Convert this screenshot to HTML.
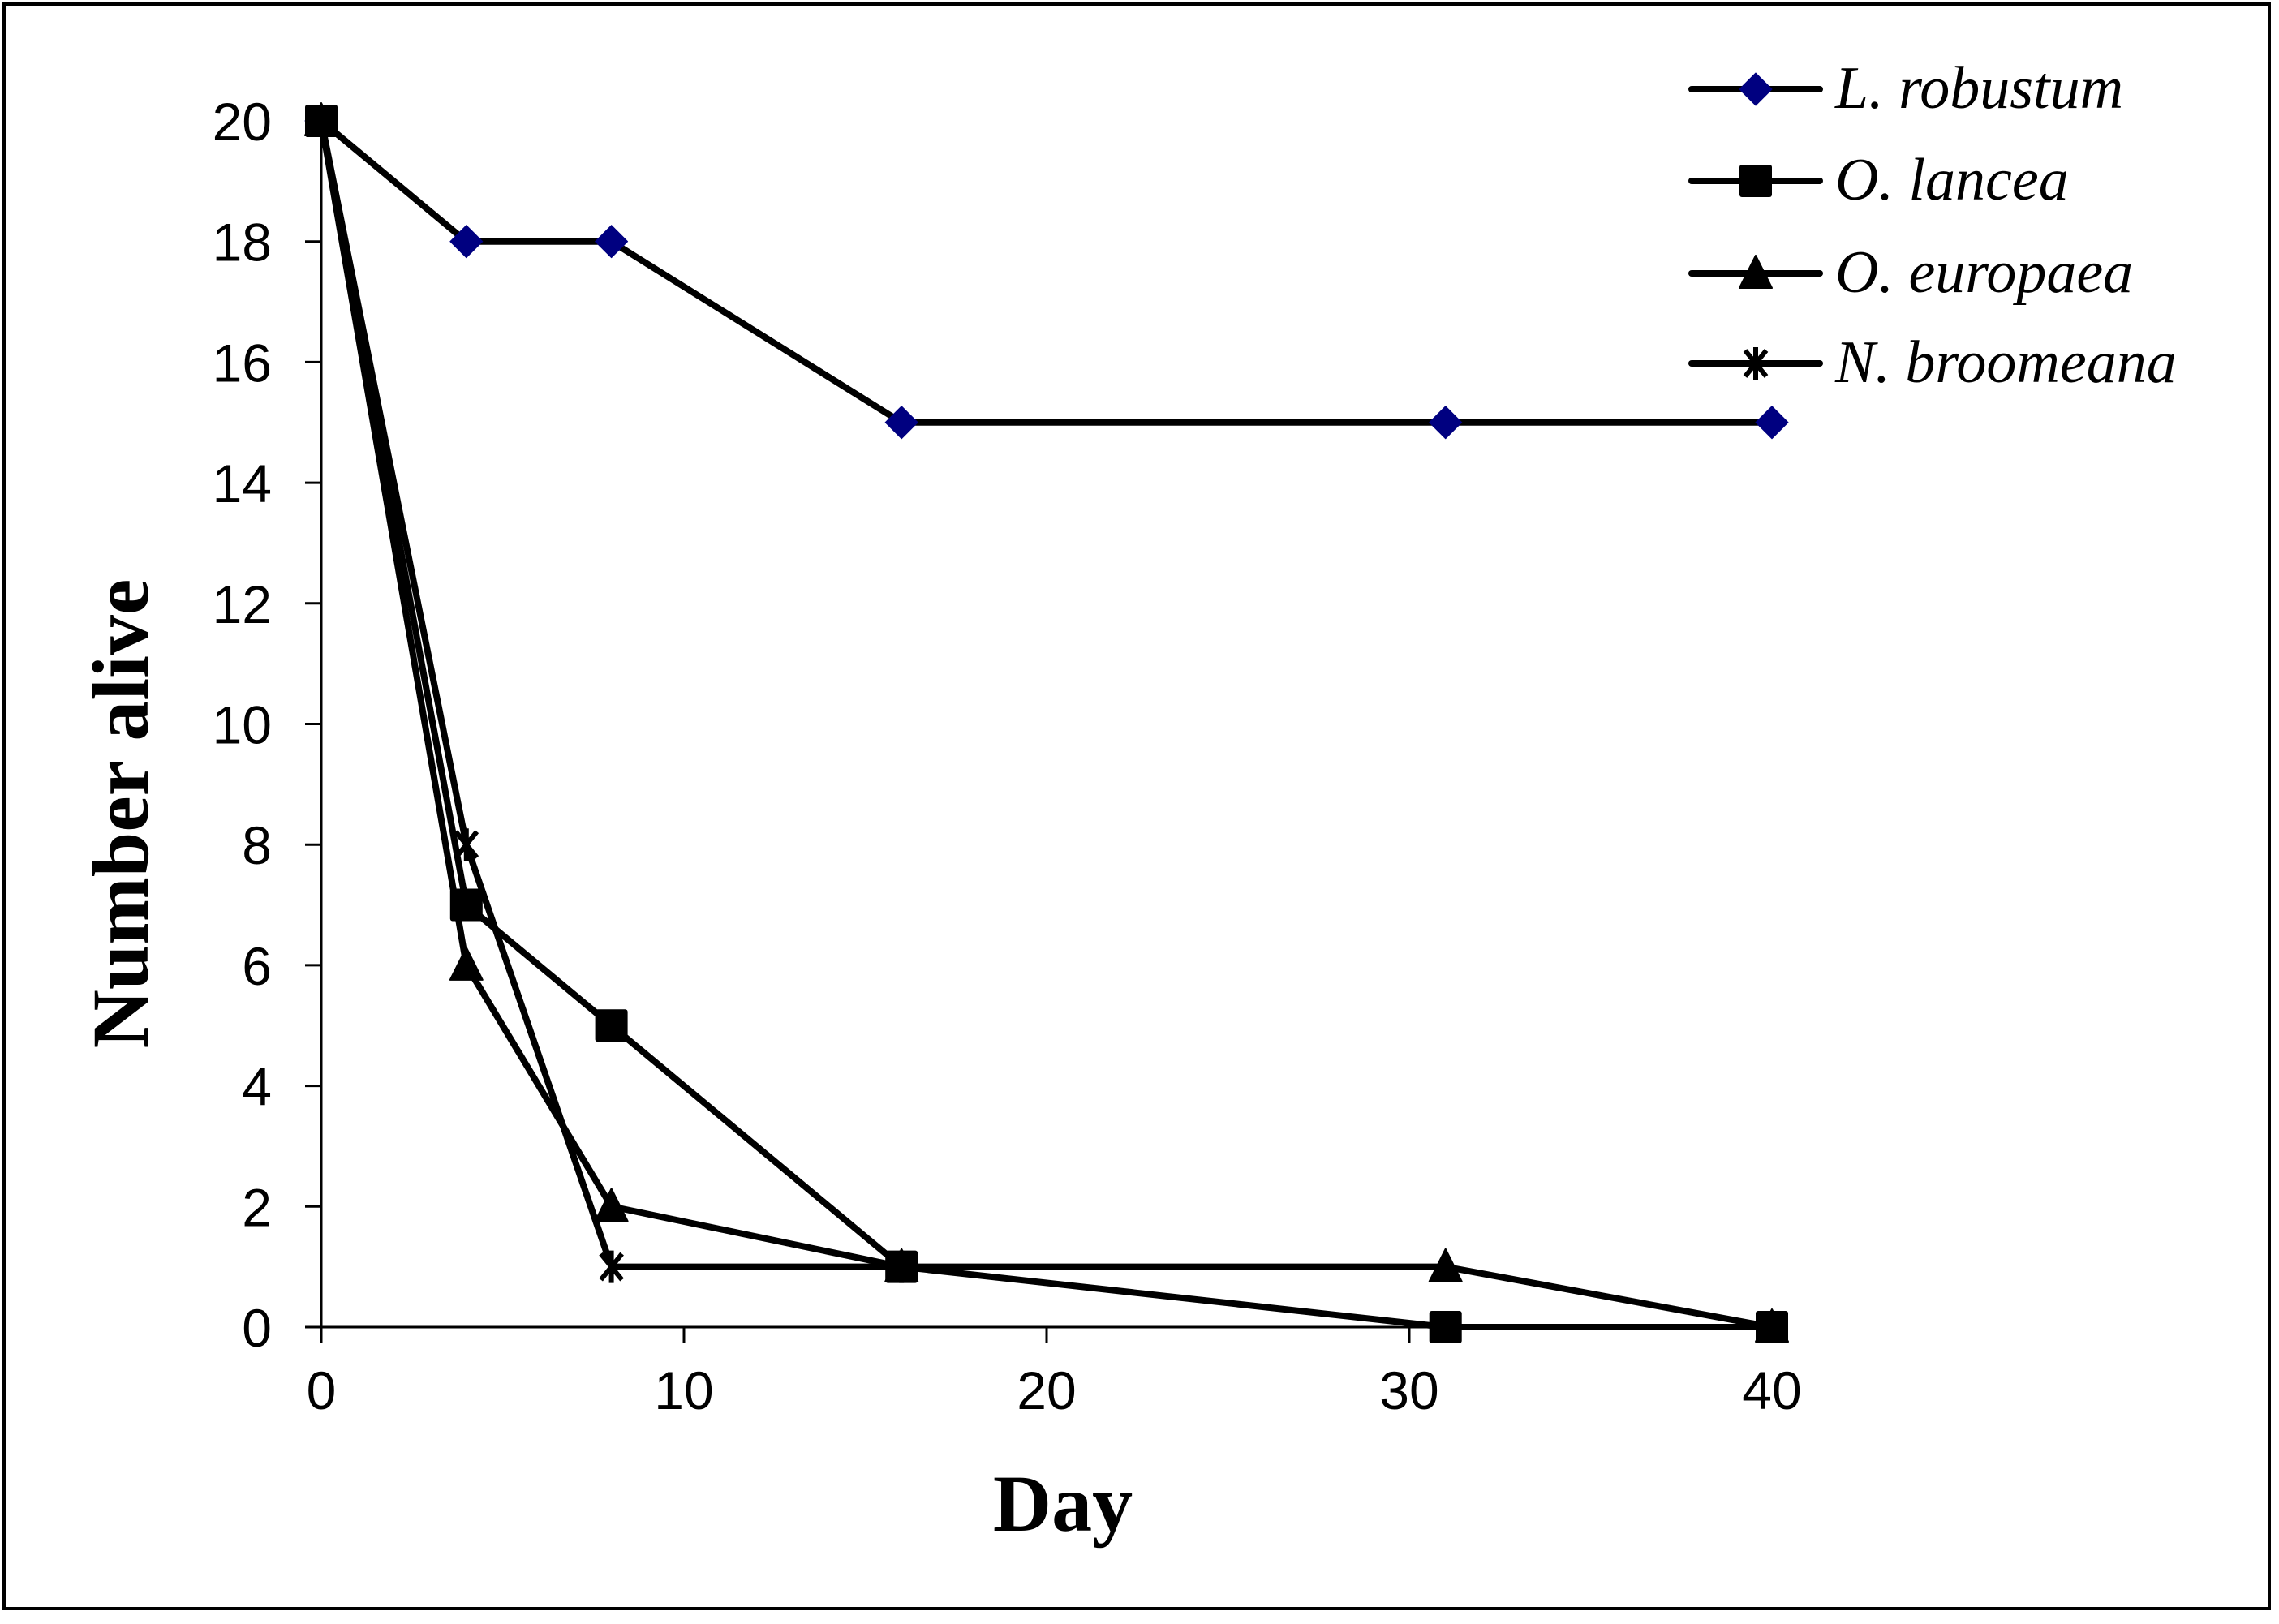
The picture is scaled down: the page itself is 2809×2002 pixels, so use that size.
<!DOCTYPE html>
<html><head><meta charset="utf-8"><style>
html,body{margin:0;padding:0;background:#fff;}
svg{display:block;}
</style></head><body>
<svg id="chart" width="2809" height="2002" viewBox="0 0 2809 2002" xmlns="http://www.w3.org/2000/svg">
<rect x="5" y="5" width="2792" height="1978" fill="#fff" stroke="#000" stroke-width="4"/>
<g id="axes"></g>
<g id="series"></g>
<g id="legend"></g>
<text x="1310" y="1887" text-anchor="middle" font-family="'Liberation Serif', serif" font-weight="bold" font-size="100">Day</text>
<text transform="translate(182,1003) rotate(-90)" text-anchor="middle" font-family="'Liberation Serif', serif" font-weight="bold" font-size="100">Number alive</text>
</svg>
<script>
const days = [0, 4, 8, 16, 31, 40];
const seriesNames = ["L. robustum", "O. lancea", "O. europaea", "N. broomeana"];
const robustum = [20, 18, 18, 15, 15, 15];
const lancea = [20, 7, 5, 1, 0, 0];
const europaea = [20, 6, 2, 1, 1, 0];
const broomeana = [20, 8, 1, 1];
const xTicks = [0, 10, 20, 30, 40];
const yTicks = [0, 2, 4, 6, 8, 10, 12, 14, 16, 18, 20];

const NS = "http://www.w3.org/2000/svg";
const X0 = 396, X1 = 2184, Y0 = 1636, Y1 = 149;
function xs(v){ return X0 + (v - 0) / 40 * (X1 - X0); }
function ys(v){ return Y0 - v / 20 * (Y0 - Y1); }
function mk(tag, attrs, parent){ const e = document.createElementNS(NS, tag); for (const k in attrs) e.setAttribute(k, attrs[k]); parent.appendChild(e); return e; }

const axes = document.getElementById('axes');
let yl = mk('line', {x1:X0, y1:Y1, x2:X0, y2:Y0, stroke:'#000', 'stroke-width':3}, axes);


let xl = mk('line', {x1:X0-20, y1:Y0, x2:X1, y2:Y0, stroke:'#000', 'stroke-width':3}, axes);


yTicks.forEach(v => {
  const t = mk('line', {x1:X0-20, y1:ys(v), x2:X0, y2:ys(v), stroke:'#000', 'stroke-width':3}, axes);
  
  
  const l = mk('text', {x:335, y:ys(v)+24, 'text-anchor':'end', 'font-family':"'Liberation Sans', sans-serif", 'font-size':66}, axes);
  l.textContent = v;
  
  
});
xTicks.forEach(v => {
  const t = mk('line', {x1:xs(v), y1:Y0, x2:xs(v), y2:Y0+20, stroke:'#000', 'stroke-width':3}, axes);
  
  
  const l = mk('text', {x:xs(v), y:1737, 'text-anchor':'middle', 'font-family':"'Liberation Sans', sans-serif", 'font-size':66}, axes);
  l.textContent = v;
  
  
});

function marker(type, cx, cy, parent){
  let e;
  if (type === 'diamond') e = mk('polygon', {points:`${cx},${cy-20} ${cx+20},${cy} ${cx},${cy+20} ${cx-20},${cy}`, fill:'#000080', stroke:'#000080', 'stroke-width':1, 'stroke-linejoin':'round'}, parent);
  else if (type === 'square') e = mk('rect', {x:cx-20, y:cy-20, width:40, height:40, rx:3, fill:'#000'}, parent);
  else if (type === 'triangle') e = mk('polygon', {points:`${cx},${cy-22} ${cx+20},${cy+18} ${cx-20},${cy+18}`, fill:'#000', stroke:'#000', 'stroke-width':2, 'stroke-linejoin':'round'}, parent);
  else {
    e = mk('path', {d:`M${cx-13},${cy-16}L${cx+13},${cy+16}M${cx+13},${cy-16}L${cx-13},${cy+16}M${cx},${cy-20}L${cx},${cy+20}`, stroke:'#000', 'stroke-width':6, fill:'none'}, parent);
  }
  return e;
}

const sdata = [robustum, lancea, europaea, broomeana];
const types = ['diamond', 'square', 'triangle', 'star'];
const sg = document.getElementById('series');
const order = [0, 3, 2, 1];
order.forEach(i => {
  const vals = sdata[i];
  const g = mk('g', {}, sg);
  
  
  const pts = vals.map((v, j) => xs(days[j]) + ',' + ys(v)).join(' ');
  const pl = mk('polyline', {points:pts, fill:'none', stroke:'#000', 'stroke-width':8, 'stroke-linejoin':'round'}, g);
  
  
  vals.forEach((v, j) => {
    const m = marker(types[i], xs(days[j]), ys(v), g);
    
    
  });
});

const lg = document.getElementById('legend');
const rowY = [110, 223, 337, 448];
seriesNames.forEach((n, i) => {
  const g = mk('g', {}, lg);
  
  
  mk('line', {x1:2085, y1:rowY[i], x2:2243, y2:rowY[i], stroke:'#000', 'stroke-width':8, 'stroke-linecap':'round'}, g);
  marker(types[i], 2164, rowY[i], g);
  const t = mk('text', {x:2262, y:rowY[i]+23, 'font-family':"'Liberation Serif', serif", 'font-style':'italic', 'font-size':74}, g);
  t.textContent = n;
});
</script>
</body></html>
